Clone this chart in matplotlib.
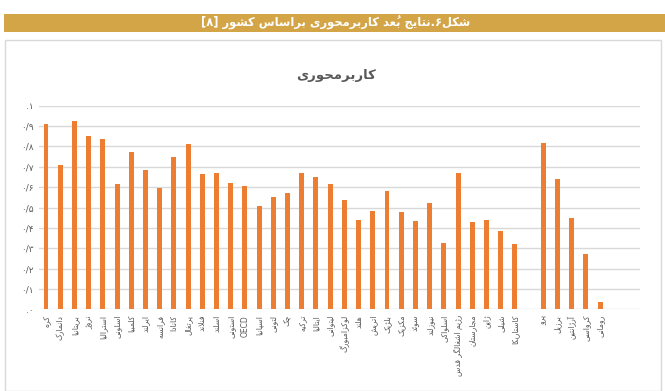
import numpy as np
import matplotlib
matplotlib.use("Agg")
import matplotlib.pyplot as plt
from matplotlib.patches import Rectangle

# data (blank slot = gap between OECD members and others)
labels = ['کره', 'دانمارک', 'بریتانیا', 'نروژ', 'استرالیا', 'اسلونی', 'کلمبیا',
          'ایرلند', 'فرانسه', 'کانادا', 'پرتغال', 'فنلاند', 'اسلند', 'استونی',
          'OECD', 'اسپانیا', 'لتونی', 'چک', 'ترکیه', 'ایتالیا', 'لیتوانی',
          'لوکزامبورگ', 'هلند', 'اتریش', 'بلژیک', 'مکزیک', 'سوئد', 'نیوزلند',
          'اسلواکی', 'رژیم اشغالگر قدس', 'مجارستان', 'ژاپن', 'شیلی', 'کاستاریکا',
          '', 'پرو', 'برزیل', 'آرژانتین', 'کرواسی', 'رومانی']
values = [0.91, 0.71, 0.925, 0.85, 0.835, 0.615, 0.775, 0.685, 0.595, 0.75,
          0.81, 0.665, 0.67, 0.62, 0.605, 0.505, 0.55, 0.57, 0.67, 0.65,
          0.615, 0.535, 0.44, 0.485, 0.58, 0.48, 0.435, 0.52, 0.325, 0.67,
          0.43, 0.44, 0.385, 0.32, np.nan, 0.815, 0.64, 0.45, 0.27, 0.035]
yticks = [0, 0.1, 0.2, 0.3, 0.4, 0.5, 0.6, 0.7, 0.8, 0.9, 1.0]
ytick_labels = ['.۰', '۰/۱', '۰/۲', '۰/۳', '۰/۴', '۰/۵', '۰/۶', '۰/۷', '۰/۸', '۰/۹', '.۱']
title = 'کاربرمحوری'
header_main = 'نتایج بُعد کاربرمحوری براساس کشور'
header_start = 'شکل'

# --- minimal Persian shaping (matplotlib has no bidi / joining) ---
# dual-joining letters: (iso, fin, init, med)
DUAL = {
    'ب': 0xFE8F, 'ت': 0xFE95, 'ث': 0xFE99, 'ج': 0xFE9D, 'ح': 0xFEA1, 'خ': 0xFEA5,
    'س': 0xFEB1, 'ش': 0xFEB5, 'ص': 0xFEB9, 'ض': 0xFEBD, 'ط': 0xFEC1, 'ظ': 0xFEC5,
    'ع': 0xFEC9, 'غ': 0xFECD, 'ف': 0xFED1, 'ق': 0xFED5, 'ل': 0xFEDD, 'م': 0xFEE1,
    'ن': 0xFEE5, 'ه': 0xFEE9, 'ئ': 0xFE89,
    'پ': 0xFB56, 'چ': 0xFB7A, 'ک': 0xFB8E, 'گ': 0xFB92, 'ی': 0xFBFC,
}
# right-joining letters: (iso, fin)
RIGHT = {'ا': 0xFE8D, 'آ': 0xFE81, 'د': 0xFEA9, 'ذ': 0xFEAB, 'ر': 0xFEAD,
         'ز': 0xFEAF, 'ژ': 0xFB8A, 'و': 0xFEED}
MARKS = set('\u064B\u064C\u064D\u064E\u064F\u0650\u0651\u0652')


def shape(text):
    base = [c for c in text]
    clusters = []
    i = 0
    n = len(base)

    def prev_joins(k):
        k -= 1
        while k >= 0 and base[k] in MARKS:
            k -= 1
        return k >= 0 and base[k] in DUAL

    def next_letter(k):
        k += 1
        while k < n and base[k] in MARKS:
            k += 1
        return base[k] if k < n else None

    while i < n:
        c = base[i]
        if c in MARKS:
            # mark goes before its base in visual order so it sits over it
            clusters[-1].insert(0, c)
            i += 1
            continue
        pj = prev_joins(i)
        nxt = next_letter(i)
        if c == 'ل' and nxt == 'ا':
            clusters.append([chr(0xFEFC if pj else 0xFEFB)])
            i += 1
            while i < n and base[i] != 'ا':
                i += 1
            i += 1
            continue
        if c in DUAL:
            nj = nxt in DUAL or nxt in RIGHT
            off = (3 if nj else 1) if pj else (2 if nj else 0)
            clusters.append([chr(DUAL[c] + off)])
        elif c in RIGHT:
            clusters.append([chr(RIGHT[c] + (1 if pj else 0))])
        else:
            clusters.append([c])
        i += 1
    return ''.join(''.join(cl) for cl in reversed(clusters))


def fa(text):
    if not any('\u0600' <= c <= '\u06FF' for c in text):
        return text
    return shape(text)


plt.rcParams['font.family'] = ['DejaVu Sans']

fig = plt.figure(figsize=(6.65, 3.91), dpi=100)
W, H = 665, 391

# header bar
fig.patches.append(Rectangle((4 / W, 1 - 32 / H), 1 - 4 / W, 18 / H,
                             transform=fig.transFigure, facecolor='#D4A546',
                             edgecolor='none'))
header = '[۸] ' + fa(header_main) + '.۶' + fa(header_start)
fig.text(336 / W, 1 - 23 / H, header, color='white', fontsize=8.3,
         fontweight='bold', ha='center', va='center')

# chart frame
fig.patches.append(Rectangle((5 / W, 0.0), 656 / W, 1 - 40 / H,
                             transform=fig.transFigure, facecolor='none',
                             edgecolor='#D9D9D9', linewidth=1))

fig.text(336 / W, 1 - 75 / H, fa(title), color='#595959', fontsize=9.5,
         fontweight='bold', ha='center', va='center')

ax = fig.add_axes([38.9 / W, 1 - 309.3 / H, 601 / W, 203.6 / H])
x = np.arange(len(labels))
ax.bar(x, values, width=0.35, color='#ED7D31', edgecolor='none', zorder=3)
ax.set_xlim(-0.5, 41.8)
ax.set_ylim(0, 1)
ax.set_yticks(yticks)
ax.set_yticklabels(ytick_labels, fontsize=6.5, color='#595959')
ax.set_xticks(x)
ax.set_xticklabels([fa(s) for s in labels], rotation=90, fontsize=5.5,
                   color='#595959')
ax.tick_params(length=0, pad=4)
ax.yaxis.grid(True, color='#D9D9D9', linewidth=1, zorder=0)
for s in ax.spines.values():
    s.set_visible(False)

fig.savefig('out.png', dpi=100)
